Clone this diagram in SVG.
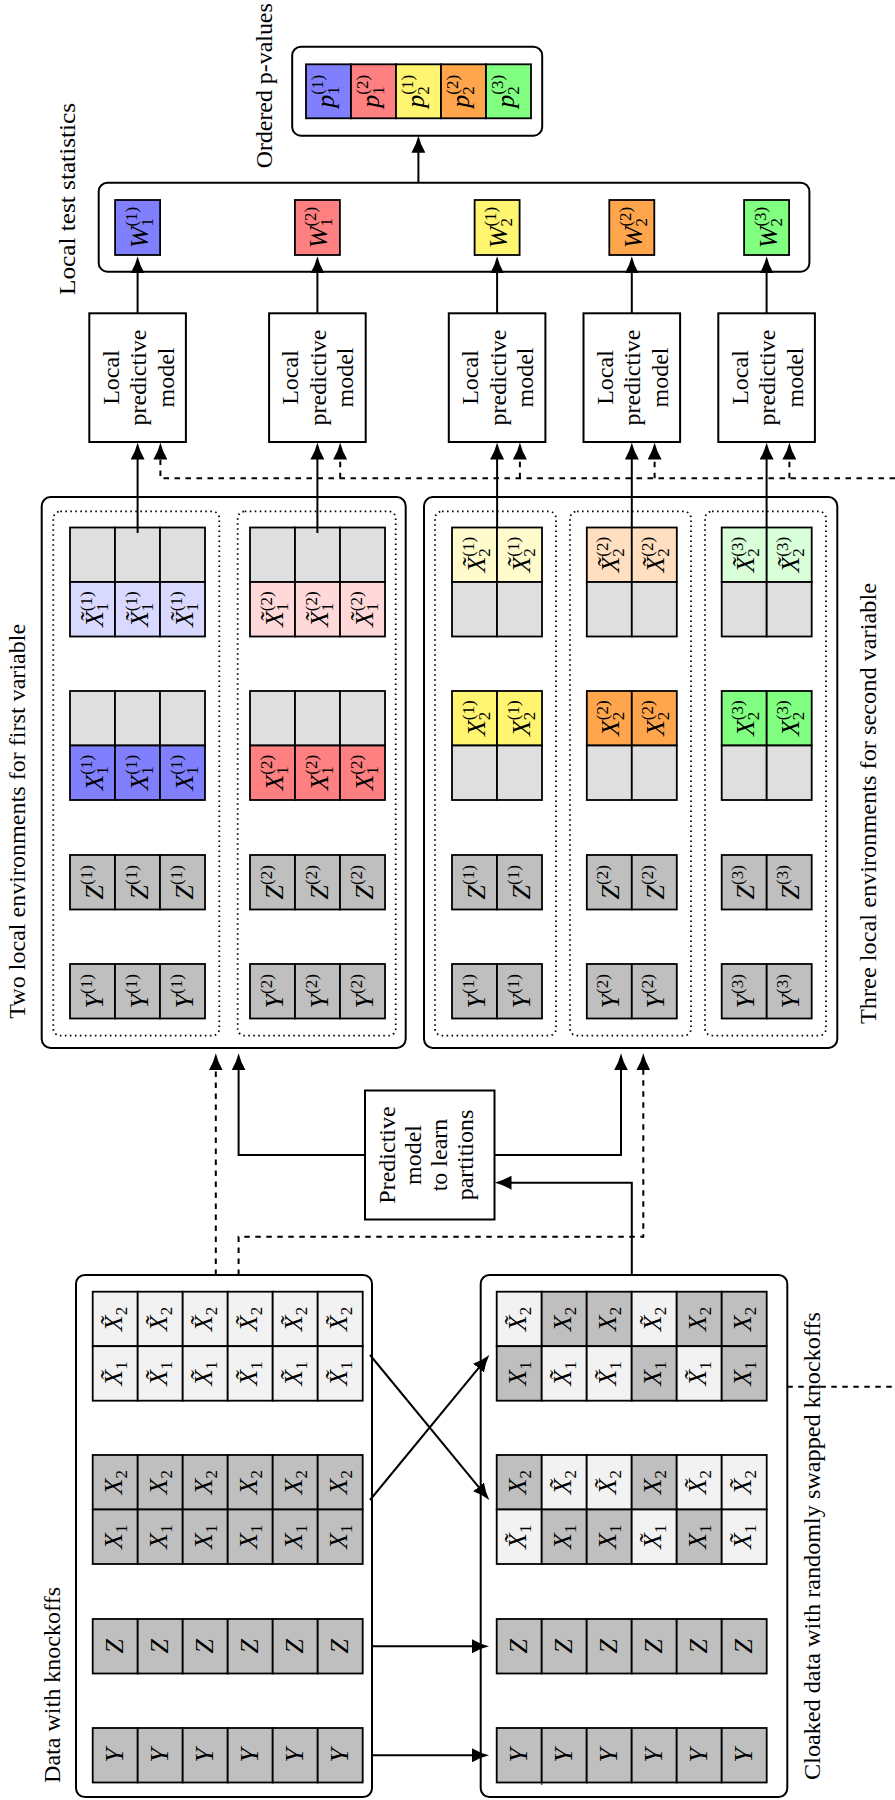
<svg xmlns="http://www.w3.org/2000/svg" width="895" height="1800" viewBox="0 0 895 1800">
<style>
text{font-family:"Liberation Serif","Times New Roman",serif;fill:#000}
.lbl{font-size:23px;text-anchor:middle}
.bx{font-size:24px;text-anchor:middle}
.t{font-size:26px;font-style:italic;text-anchor:middle}
.s{font-size:17px;font-style:normal}
.box{fill:#fff;stroke:#000;stroke-width:2}
.nb{fill:#fff;stroke:#000;stroke-width:2}
.dot{fill:none;stroke:#000;stroke-width:1.8;stroke-dasharray:1.6 3.4}
use.c{stroke:#000;stroke-width:1.8}
.g{fill:#bfbfbf}.e{fill:#dfdfdf}.k{fill:#f2f2f2}
.b{fill:#8080ff}.r{fill:#ff8080}.y{fill:#fff570}.o{fill:#ffa64d}.gr{fill:#80ff80}
.lb{fill:#d9d9ff}.lr{fill:#ffd9d9}.ly{fill:#fffbcc}.lo{fill:#ffdfbf}.lg{fill:#d9ffd9}
.ln{fill:none;stroke:#000;stroke-width:2}
.ds{stroke-dasharray:5.5 5.5}
</style>
<defs>
<rect id="cl" width="45" height="54.5"/>
<rect id="cw" width="45" height="55"/>
<rect id="cp" width="45" height="54"/>
<marker id="ah" viewBox="0 0 17 14" refX="11" refY="7" markerWidth="17" markerHeight="14" markerUnits="userSpaceOnUse" orient="auto"><path d="M17,7 Q8.5,5 0,0 L0,14 Q8.5,9 17,7 Z" fill="#000"/></marker>
</defs>

<g id="pvalues">
<rect class="box" x="292.2" y="46.7" width="250" height="89" rx="8.8"/>
<use href="#cp" class="c b" x="306" y="64.3"/>
<use href="#cp" class="c r" x="351" y="64.3"/>
<use href="#cp" class="c y" x="396" y="64.3"/>
<use href="#cp" class="c o" x="441" y="64.3"/>
<use href="#cp" class="c gr" x="486" y="64.3"/>
<text class="t" transform="translate(328.5 91.3) rotate(-90)" y="5">p<tspan class="s" dy="5">1</tspan><tspan class="s" dx="-8.5" dy="-16">(1)</tspan></text>
<text class="t" transform="translate(373.5 91.3) rotate(-90)" y="5">p<tspan class="s" dy="5">1</tspan><tspan class="s" dx="-8.5" dy="-16">(2)</tspan></text>
<text class="t" transform="translate(418.5 91.3) rotate(-90)" y="5">p<tspan class="s" dy="5">2</tspan><tspan class="s" dx="-8.5" dy="-16">(1)</tspan></text>
<text class="t" transform="translate(463.5 91.3) rotate(-90)" y="5">p<tspan class="s" dy="5">2</tspan><tspan class="s" dx="-8.5" dy="-16">(2)</tspan></text>
<text class="t" transform="translate(508.5 91.3) rotate(-90)" y="5">p<tspan class="s" dy="5">2</tspan><tspan class="s" dx="-8.5" dy="-16">(3)</tspan></text>
<text class="lbl" transform="translate(272 85.8) rotate(-90)" textLength="165" lengthAdjust="spacingAndGlyphs">Ordered p-values</text>
</g>

<g id="stats">
<rect class="box" x="98.7" y="182.7" width="710.7" height="89" rx="8.8"/>
<use href="#cw" class="c b" x="115.1" y="200"/>
<use href="#cw" class="c r" x="294.9" y="200"/>
<use href="#cw" class="c y" x="474.6" y="200"/>
<use href="#cw" class="c o" x="609.3" y="200"/>
<use href="#cw" class="c gr" x="744.1" y="200"/>
<text class="t" transform="translate(137.6 227.5) rotate(-90)" y="10">W<tspan class="s" dy="5">1</tspan><tspan class="s" dx="-8.5" dy="-16">(1)</tspan></text>
<text class="t" transform="translate(317.4 227.5) rotate(-90)" y="10">W<tspan class="s" dy="5">1</tspan><tspan class="s" dx="-8.5" dy="-16">(2)</tspan></text>
<text class="t" transform="translate(497.1 227.5) rotate(-90)" y="10">W<tspan class="s" dy="5">2</tspan><tspan class="s" dx="-8.5" dy="-16">(1)</tspan></text>
<text class="t" transform="translate(631.8 227.5) rotate(-90)" y="10">W<tspan class="s" dy="5">2</tspan><tspan class="s" dx="-8.5" dy="-16">(2)</tspan></text>
<text class="t" transform="translate(766.6 227.5) rotate(-90)" y="10">W<tspan class="s" dy="5">2</tspan><tspan class="s" dx="-8.5" dy="-16">(3)</tspan></text>
<text class="lbl" transform="translate(75 199) rotate(-90)" textLength="192" lengthAdjust="spacingAndGlyphs">Local test statistics</text>
</g>

<g id="lpm1"><rect class="nb" x="89.3" y="313.3" width="96.6" height="128.7"/><text class="bx" transform="translate(137.6 377.5) rotate(-90)"><tspan x="0" y="-19">Local</tspan><tspan x="0" y="8.5">predictive</tspan><tspan x="0" y="36">model</tspan></text></g>
<g id="lpm2"><rect class="nb" x="269.1" y="313.3" width="96.6" height="128.7"/><text class="bx" transform="translate(317.4 377.5) rotate(-90)"><tspan x="0" y="-19">Local</tspan><tspan x="0" y="8.5">predictive</tspan><tspan x="0" y="36">model</tspan></text></g>
<g id="lpm3"><rect class="nb" x="448.8" y="313.3" width="96.6" height="128.7"/><text class="bx" transform="translate(497.1 377.5) rotate(-90)"><tspan x="0" y="-19">Local</tspan><tspan x="0" y="8.5">predictive</tspan><tspan x="0" y="36">model</tspan></text></g>
<g id="lpm4"><rect class="nb" x="583.5" y="313.3" width="96.6" height="128.7"/><text class="bx" transform="translate(631.8 377.5) rotate(-90)"><tspan x="0" y="-19">Local</tspan><tspan x="0" y="8.5">predictive</tspan><tspan x="0" y="36">model</tspan></text></g>
<g id="lpm5"><rect class="nb" x="718.3" y="313.3" width="96.6" height="128.7"/><text class="bx" transform="translate(766.6 377.5) rotate(-90)"><tspan x="0" y="-19">Local</tspan><tspan x="0" y="8.5">predictive</tspan><tspan x="0" y="36">model</tspan></text></g>

<g id="env-first">
<rect class="box" x="41.7" y="497.1" width="364" height="550.8" rx="8.8"/>
<rect class="dot" x="53.3" y="511.4" width="166" height="524.3" rx="7"/>
<rect class="dot" x="237.7" y="511.4" width="158" height="524.3" rx="7"/>
<use href="#cl" class="c e" x="70" y="527.5"/><use href="#cl" class="c e" x="115" y="527.5"/><use href="#cl" class="c e" x="160" y="527.5"/>
<use href="#cl" class="c lb" x="70" y="582"/><use href="#cl" class="c lb" x="115" y="582"/><use href="#cl" class="c lb" x="160" y="582"/>
<use href="#cl" class="c e" x="70" y="691"/><use href="#cl" class="c e" x="115" y="691"/><use href="#cl" class="c e" x="160" y="691"/>
<use href="#cl" class="c b" x="70" y="745.5"/><use href="#cl" class="c b" x="115" y="745.5"/><use href="#cl" class="c b" x="160" y="745.5"/>
<use href="#cl" class="c g" x="70" y="855"/><use href="#cl" class="c g" x="115" y="855"/><use href="#cl" class="c g" x="160" y="855"/>
<use href="#cl" class="c g" x="70" y="964"/><use href="#cl" class="c g" x="115" y="964"/><use href="#cl" class="c g" x="160" y="964"/>
<use href="#cl" class="c e" x="250" y="527.5"/><use href="#cl" class="c e" x="295" y="527.5"/><use href="#cl" class="c e" x="340" y="527.5"/>
<use href="#cl" class="c lr" x="250" y="582"/><use href="#cl" class="c lr" x="295" y="582"/><use href="#cl" class="c lr" x="340" y="582"/>
<use href="#cl" class="c e" x="250" y="691"/><use href="#cl" class="c e" x="295" y="691"/><use href="#cl" class="c e" x="340" y="691"/>
<use href="#cl" class="c r" x="250" y="745.5"/><use href="#cl" class="c r" x="295" y="745.5"/><use href="#cl" class="c r" x="340" y="745.5"/>
<use href="#cl" class="c g" x="250" y="855"/><use href="#cl" class="c g" x="295" y="855"/><use href="#cl" class="c g" x="340" y="855"/>
<use href="#cl" class="c g" x="250" y="964"/><use href="#cl" class="c g" x="295" y="964"/><use href="#cl" class="c g" x="340" y="964"/>
<text class="t" transform="translate(92.5 609.25) rotate(-90)" y="10">X̃<tspan class="s" dy="5">1</tspan><tspan class="s" dx="-8.5" dy="-16">(1)</tspan></text>
<text class="t" transform="translate(137.5 609.25) rotate(-90)" y="10">X̃<tspan class="s" dy="5">1</tspan><tspan class="s" dx="-8.5" dy="-16">(1)</tspan></text>
<text class="t" transform="translate(182.5 609.25) rotate(-90)" y="10">X̃<tspan class="s" dy="5">1</tspan><tspan class="s" dx="-8.5" dy="-16">(1)</tspan></text>
<text class="t" transform="translate(92.5 772.75) rotate(-90)" y="10">X<tspan class="s" dy="5">1</tspan><tspan class="s" dx="-8.5" dy="-16">(1)</tspan></text>
<text class="t" transform="translate(137.5 772.75) rotate(-90)" y="10">X<tspan class="s" dy="5">1</tspan><tspan class="s" dx="-8.5" dy="-16">(1)</tspan></text>
<text class="t" transform="translate(182.5 772.75) rotate(-90)" y="10">X<tspan class="s" dy="5">1</tspan><tspan class="s" dx="-8.5" dy="-16">(1)</tspan></text>
<text class="t" transform="translate(92.5 882.25) rotate(-90)" y="10">Z<tspan class="s" dy="-11">(1)</tspan></text>
<text class="t" transform="translate(137.5 882.25) rotate(-90)" y="10">Z<tspan class="s" dy="-11">(1)</tspan></text>
<text class="t" transform="translate(182.5 882.25) rotate(-90)" y="10">Z<tspan class="s" dy="-11">(1)</tspan></text>
<text class="t" transform="translate(92.5 991.25) rotate(-90)" y="10">Y<tspan class="s" dy="-11">(1)</tspan></text>
<text class="t" transform="translate(137.5 991.25) rotate(-90)" y="10">Y<tspan class="s" dy="-11">(1)</tspan></text>
<text class="t" transform="translate(182.5 991.25) rotate(-90)" y="10">Y<tspan class="s" dy="-11">(1)</tspan></text>
<text class="t" transform="translate(272.5 609.25) rotate(-90)" y="10">X̃<tspan class="s" dy="5">1</tspan><tspan class="s" dx="-8.5" dy="-16">(2)</tspan></text>
<text class="t" transform="translate(317.5 609.25) rotate(-90)" y="10">X̃<tspan class="s" dy="5">1</tspan><tspan class="s" dx="-8.5" dy="-16">(2)</tspan></text>
<text class="t" transform="translate(362.5 609.25) rotate(-90)" y="10">X̃<tspan class="s" dy="5">1</tspan><tspan class="s" dx="-8.5" dy="-16">(2)</tspan></text>
<text class="t" transform="translate(272.5 772.75) rotate(-90)" y="10">X<tspan class="s" dy="5">1</tspan><tspan class="s" dx="-8.5" dy="-16">(2)</tspan></text>
<text class="t" transform="translate(317.5 772.75) rotate(-90)" y="10">X<tspan class="s" dy="5">1</tspan><tspan class="s" dx="-8.5" dy="-16">(2)</tspan></text>
<text class="t" transform="translate(362.5 772.75) rotate(-90)" y="10">X<tspan class="s" dy="5">1</tspan><tspan class="s" dx="-8.5" dy="-16">(2)</tspan></text>
<text class="t" transform="translate(272.5 882.25) rotate(-90)" y="10">Z<tspan class="s" dy="-11">(2)</tspan></text>
<text class="t" transform="translate(317.5 882.25) rotate(-90)" y="10">Z<tspan class="s" dy="-11">(2)</tspan></text>
<text class="t" transform="translate(362.5 882.25) rotate(-90)" y="10">Z<tspan class="s" dy="-11">(2)</tspan></text>
<text class="t" transform="translate(272.5 991.25) rotate(-90)" y="10">Y<tspan class="s" dy="-11">(2)</tspan></text>
<text class="t" transform="translate(317.5 991.25) rotate(-90)" y="10">Y<tspan class="s" dy="-11">(2)</tspan></text>
<text class="t" transform="translate(362.5 991.25) rotate(-90)" y="10">Y<tspan class="s" dy="-11">(2)</tspan></text>
<text class="lbl" transform="translate(25 821.3) rotate(-90)" textLength="395" lengthAdjust="spacingAndGlyphs">Two local environments for first variable</text>
</g>

<g id="env-second">
<rect class="box" x="424" y="497.1" width="413.3" height="550.8" rx="8.8"/>
<rect class="dot" x="435" y="511.4" width="121" height="524.3" rx="7"/>
<rect class="dot" x="570" y="511.4" width="121" height="524.3" rx="7"/>
<rect class="dot" x="705" y="511.4" width="121" height="524.3" rx="7"/>
<use href="#cl" class="c ly" x="452" y="527.5"/><use href="#cl" class="c ly" x="497" y="527.5"/>
<use href="#cl" class="c e" x="452" y="582"/><use href="#cl" class="c e" x="497" y="582"/>
<use href="#cl" class="c y" x="452" y="691"/><use href="#cl" class="c y" x="497" y="691"/>
<use href="#cl" class="c e" x="452" y="745.5"/><use href="#cl" class="c e" x="497" y="745.5"/>
<use href="#cl" class="c g" x="452" y="855"/><use href="#cl" class="c g" x="497" y="855"/>
<use href="#cl" class="c g" x="452" y="964"/><use href="#cl" class="c g" x="497" y="964"/>
<use href="#cl" class="c lo" x="586.8" y="527.5"/><use href="#cl" class="c lo" x="631.8" y="527.5"/>
<use href="#cl" class="c e" x="586.8" y="582"/><use href="#cl" class="c e" x="631.8" y="582"/>
<use href="#cl" class="c o" x="586.8" y="691"/><use href="#cl" class="c o" x="631.8" y="691"/>
<use href="#cl" class="c e" x="586.8" y="745.5"/><use href="#cl" class="c e" x="631.8" y="745.5"/>
<use href="#cl" class="c g" x="586.8" y="855"/><use href="#cl" class="c g" x="631.8" y="855"/>
<use href="#cl" class="c g" x="586.8" y="964"/><use href="#cl" class="c g" x="631.8" y="964"/>
<use href="#cl" class="c lg" x="721.7" y="527.5"/><use href="#cl" class="c lg" x="766.7" y="527.5"/>
<use href="#cl" class="c e" x="721.7" y="582"/><use href="#cl" class="c e" x="766.7" y="582"/>
<use href="#cl" class="c gr" x="721.7" y="691"/><use href="#cl" class="c gr" x="766.7" y="691"/>
<use href="#cl" class="c e" x="721.7" y="745.5"/><use href="#cl" class="c e" x="766.7" y="745.5"/>
<use href="#cl" class="c g" x="721.7" y="855"/><use href="#cl" class="c g" x="766.7" y="855"/>
<use href="#cl" class="c g" x="721.7" y="964"/><use href="#cl" class="c g" x="766.7" y="964"/>
<text class="t" transform="translate(474.5 554.75) rotate(-90)" y="10">X̃<tspan class="s" dy="5">2</tspan><tspan class="s" dx="-8.5" dy="-16">(1)</tspan></text>
<text class="t" transform="translate(519.5 554.75) rotate(-90)" y="10">X̃<tspan class="s" dy="5">2</tspan><tspan class="s" dx="-8.5" dy="-16">(1)</tspan></text>
<text class="t" transform="translate(474.5 718.25) rotate(-90)" y="10">X<tspan class="s" dy="5">2</tspan><tspan class="s" dx="-8.5" dy="-16">(1)</tspan></text>
<text class="t" transform="translate(519.5 718.25) rotate(-90)" y="10">X<tspan class="s" dy="5">2</tspan><tspan class="s" dx="-8.5" dy="-16">(1)</tspan></text>
<text class="t" transform="translate(474.5 882.25) rotate(-90)" y="10">Z<tspan class="s" dy="-11">(1)</tspan></text>
<text class="t" transform="translate(519.5 882.25) rotate(-90)" y="10">Z<tspan class="s" dy="-11">(1)</tspan></text>
<text class="t" transform="translate(474.5 991.25) rotate(-90)" y="10">Y<tspan class="s" dy="-11">(1)</tspan></text>
<text class="t" transform="translate(519.5 991.25) rotate(-90)" y="10">Y<tspan class="s" dy="-11">(1)</tspan></text>
<text class="t" transform="translate(609.3 554.75) rotate(-90)" y="10">X̃<tspan class="s" dy="5">2</tspan><tspan class="s" dx="-8.5" dy="-16">(2)</tspan></text>
<text class="t" transform="translate(654.3 554.75) rotate(-90)" y="10">X̃<tspan class="s" dy="5">2</tspan><tspan class="s" dx="-8.5" dy="-16">(2)</tspan></text>
<text class="t" transform="translate(609.3 718.25) rotate(-90)" y="10">X<tspan class="s" dy="5">2</tspan><tspan class="s" dx="-8.5" dy="-16">(2)</tspan></text>
<text class="t" transform="translate(654.3 718.25) rotate(-90)" y="10">X<tspan class="s" dy="5">2</tspan><tspan class="s" dx="-8.5" dy="-16">(2)</tspan></text>
<text class="t" transform="translate(609.3 882.25) rotate(-90)" y="10">Z<tspan class="s" dy="-11">(2)</tspan></text>
<text class="t" transform="translate(654.3 882.25) rotate(-90)" y="10">Z<tspan class="s" dy="-11">(2)</tspan></text>
<text class="t" transform="translate(609.3 991.25) rotate(-90)" y="10">Y<tspan class="s" dy="-11">(2)</tspan></text>
<text class="t" transform="translate(654.3 991.25) rotate(-90)" y="10">Y<tspan class="s" dy="-11">(2)</tspan></text>
<text class="t" transform="translate(744.2 554.75) rotate(-90)" y="10">X̃<tspan class="s" dy="5">2</tspan><tspan class="s" dx="-8.5" dy="-16">(3)</tspan></text>
<text class="t" transform="translate(789.2 554.75) rotate(-90)" y="10">X̃<tspan class="s" dy="5">2</tspan><tspan class="s" dx="-8.5" dy="-16">(3)</tspan></text>
<text class="t" transform="translate(744.2 718.25) rotate(-90)" y="10">X<tspan class="s" dy="5">2</tspan><tspan class="s" dx="-8.5" dy="-16">(3)</tspan></text>
<text class="t" transform="translate(789.2 718.25) rotate(-90)" y="10">X<tspan class="s" dy="5">2</tspan><tspan class="s" dx="-8.5" dy="-16">(3)</tspan></text>
<text class="t" transform="translate(744.2 882.25) rotate(-90)" y="10">Z<tspan class="s" dy="-11">(3)</tspan></text>
<text class="t" transform="translate(789.2 882.25) rotate(-90)" y="10">Z<tspan class="s" dy="-11">(3)</tspan></text>
<text class="t" transform="translate(744.2 991.25) rotate(-90)" y="10">Y<tspan class="s" dy="-11">(3)</tspan></text>
<text class="t" transform="translate(789.2 991.25) rotate(-90)" y="10">Y<tspan class="s" dy="-11">(3)</tspan></text>
<text class="lbl" transform="translate(875.5 803.5) rotate(-90)" textLength="441" lengthAdjust="spacingAndGlyphs">Three local environments for second variable</text>
</g>

<g id="predictive"><rect class="nb" x="365" y="1090.5" width="129.5" height="129"/><text class="bx" transform="translate(430 1155) rotate(-90)"><tspan x="0" y="-35">Predictive</tspan><tspan x="0" y="-9">model</tspan><tspan x="0" y="17">to learn</tspan><tspan x="0" y="43">partitions</tspan></text></g>

<g id="data">
<rect class="box" x="76" y="1275" width="296" height="522" rx="8.8"/>
<use href="#cl" class="c k" x="92.7" y="1291.7"/><use href="#cl" class="c k" x="137.7" y="1291.7"/><use href="#cl" class="c k" x="182.7" y="1291.7"/><use href="#cl" class="c k" x="227.7" y="1291.7"/><use href="#cl" class="c k" x="272.7" y="1291.7"/><use href="#cl" class="c k" x="317.7" y="1291.7"/>
<use href="#cl" class="c k" x="92.7" y="1346.2"/><use href="#cl" class="c k" x="137.7" y="1346.2"/><use href="#cl" class="c k" x="182.7" y="1346.2"/><use href="#cl" class="c k" x="227.7" y="1346.2"/><use href="#cl" class="c k" x="272.7" y="1346.2"/><use href="#cl" class="c k" x="317.7" y="1346.2"/>
<use href="#cl" class="c g" x="92.7" y="1455"/><use href="#cl" class="c g" x="137.7" y="1455"/><use href="#cl" class="c g" x="182.7" y="1455"/><use href="#cl" class="c g" x="227.7" y="1455"/><use href="#cl" class="c g" x="272.7" y="1455"/><use href="#cl" class="c g" x="317.7" y="1455"/>
<use href="#cl" class="c g" x="92.7" y="1509.5"/><use href="#cl" class="c g" x="137.7" y="1509.5"/><use href="#cl" class="c g" x="182.7" y="1509.5"/><use href="#cl" class="c g" x="227.7" y="1509.5"/><use href="#cl" class="c g" x="272.7" y="1509.5"/><use href="#cl" class="c g" x="317.7" y="1509.5"/>
<use href="#cl" class="c g" x="92.7" y="1619"/><use href="#cl" class="c g" x="137.7" y="1619"/><use href="#cl" class="c g" x="182.7" y="1619"/><use href="#cl" class="c g" x="227.7" y="1619"/><use href="#cl" class="c g" x="272.7" y="1619"/><use href="#cl" class="c g" x="317.7" y="1619"/>
<use href="#cl" class="c g" x="92.7" y="1728"/><use href="#cl" class="c g" x="137.7" y="1728"/><use href="#cl" class="c g" x="182.7" y="1728"/><use href="#cl" class="c g" x="227.7" y="1728"/><use href="#cl" class="c g" x="272.7" y="1728"/><use href="#cl" class="c g" x="317.7" y="1728"/>
<text class="t" transform="translate(115.2 1318.95) rotate(-90)" y="7">X̃<tspan class="s" dy="5">2</tspan></text>
<text class="t" transform="translate(160.2 1318.95) rotate(-90)" y="7">X̃<tspan class="s" dy="5">2</tspan></text>
<text class="t" transform="translate(205.2 1318.95) rotate(-90)" y="7">X̃<tspan class="s" dy="5">2</tspan></text>
<text class="t" transform="translate(250.2 1318.95) rotate(-90)" y="7">X̃<tspan class="s" dy="5">2</tspan></text>
<text class="t" transform="translate(295.2 1318.95) rotate(-90)" y="7">X̃<tspan class="s" dy="5">2</tspan></text>
<text class="t" transform="translate(340.2 1318.95) rotate(-90)" y="7">X̃<tspan class="s" dy="5">2</tspan></text>
<text class="t" transform="translate(115.2 1373.45) rotate(-90)" y="7">X̃<tspan class="s" dy="5">1</tspan></text>
<text class="t" transform="translate(160.2 1373.45) rotate(-90)" y="7">X̃<tspan class="s" dy="5">1</tspan></text>
<text class="t" transform="translate(205.2 1373.45) rotate(-90)" y="7">X̃<tspan class="s" dy="5">1</tspan></text>
<text class="t" transform="translate(250.2 1373.45) rotate(-90)" y="7">X̃<tspan class="s" dy="5">1</tspan></text>
<text class="t" transform="translate(295.2 1373.45) rotate(-90)" y="7">X̃<tspan class="s" dy="5">1</tspan></text>
<text class="t" transform="translate(340.2 1373.45) rotate(-90)" y="7">X̃<tspan class="s" dy="5">1</tspan></text>
<text class="t" transform="translate(115.2 1482.25) rotate(-90)" y="7">X<tspan class="s" dy="5">2</tspan></text>
<text class="t" transform="translate(160.2 1482.25) rotate(-90)" y="7">X<tspan class="s" dy="5">2</tspan></text>
<text class="t" transform="translate(205.2 1482.25) rotate(-90)" y="7">X<tspan class="s" dy="5">2</tspan></text>
<text class="t" transform="translate(250.2 1482.25) rotate(-90)" y="7">X<tspan class="s" dy="5">2</tspan></text>
<text class="t" transform="translate(295.2 1482.25) rotate(-90)" y="7">X<tspan class="s" dy="5">2</tspan></text>
<text class="t" transform="translate(340.2 1482.25) rotate(-90)" y="7">X<tspan class="s" dy="5">2</tspan></text>
<text class="t" transform="translate(115.2 1536.75) rotate(-90)" y="7">X<tspan class="s" dy="5">1</tspan></text>
<text class="t" transform="translate(160.2 1536.75) rotate(-90)" y="7">X<tspan class="s" dy="5">1</tspan></text>
<text class="t" transform="translate(205.2 1536.75) rotate(-90)" y="7">X<tspan class="s" dy="5">1</tspan></text>
<text class="t" transform="translate(250.2 1536.75) rotate(-90)" y="7">X<tspan class="s" dy="5">1</tspan></text>
<text class="t" transform="translate(295.2 1536.75) rotate(-90)" y="7">X<tspan class="s" dy="5">1</tspan></text>
<text class="t" transform="translate(340.2 1536.75) rotate(-90)" y="7">X<tspan class="s" dy="5">1</tspan></text>
<text class="t" transform="translate(115.2 1646.25) rotate(-90)" y="8">Z</text>
<text class="t" transform="translate(160.2 1646.25) rotate(-90)" y="8">Z</text>
<text class="t" transform="translate(205.2 1646.25) rotate(-90)" y="8">Z</text>
<text class="t" transform="translate(250.2 1646.25) rotate(-90)" y="8">Z</text>
<text class="t" transform="translate(295.2 1646.25) rotate(-90)" y="8">Z</text>
<text class="t" transform="translate(340.2 1646.25) rotate(-90)" y="8">Z</text>
<text class="t" transform="translate(115.2 1755.25) rotate(-90)" y="8">Y</text>
<text class="t" transform="translate(160.2 1755.25) rotate(-90)" y="8">Y</text>
<text class="t" transform="translate(205.2 1755.25) rotate(-90)" y="8">Y</text>
<text class="t" transform="translate(250.2 1755.25) rotate(-90)" y="8">Y</text>
<text class="t" transform="translate(295.2 1755.25) rotate(-90)" y="8">Y</text>
<text class="t" transform="translate(340.2 1755.25) rotate(-90)" y="8">Y</text>
<text class="lbl" transform="translate(60 1685) rotate(-90)" textLength="196" lengthAdjust="spacingAndGlyphs">Data with knockoffs</text>
</g>

<g id="cloaked">
<rect class="box" x="480.7" y="1275" width="306.6" height="522" rx="8.8"/>
<use href="#cl" class="c k" x="496.7" y="1291.7"/><use href="#cl" class="c g" x="541.7" y="1291.7"/><use href="#cl" class="c g" x="586.7" y="1291.7"/><use href="#cl" class="c k" x="631.7" y="1291.7"/><use href="#cl" class="c g" x="676.7" y="1291.7"/><use href="#cl" class="c g" x="721.7" y="1291.7"/>
<use href="#cl" class="c g" x="496.7" y="1346.2"/><use href="#cl" class="c k" x="541.7" y="1346.2"/><use href="#cl" class="c k" x="586.7" y="1346.2"/><use href="#cl" class="c g" x="631.7" y="1346.2"/><use href="#cl" class="c k" x="676.7" y="1346.2"/><use href="#cl" class="c g" x="721.7" y="1346.2"/>
<use href="#cl" class="c g" x="496.7" y="1455"/><use href="#cl" class="c k" x="541.7" y="1455"/><use href="#cl" class="c k" x="586.7" y="1455"/><use href="#cl" class="c g" x="631.7" y="1455"/><use href="#cl" class="c k" x="676.7" y="1455"/><use href="#cl" class="c k" x="721.7" y="1455"/>
<use href="#cl" class="c k" x="496.7" y="1509.5"/><use href="#cl" class="c g" x="541.7" y="1509.5"/><use href="#cl" class="c g" x="586.7" y="1509.5"/><use href="#cl" class="c k" x="631.7" y="1509.5"/><use href="#cl" class="c g" x="676.7" y="1509.5"/><use href="#cl" class="c k" x="721.7" y="1509.5"/>
<use href="#cl" class="c g" x="496.7" y="1619"/><use href="#cl" class="c g" x="541.7" y="1619"/><use href="#cl" class="c g" x="586.7" y="1619"/><use href="#cl" class="c g" x="631.7" y="1619"/><use href="#cl" class="c g" x="676.7" y="1619"/><use href="#cl" class="c g" x="721.7" y="1619"/>
<use href="#cl" class="c g" x="496.7" y="1728"/><use href="#cl" class="c g" x="541.7" y="1728"/><use href="#cl" class="c g" x="586.7" y="1728"/><use href="#cl" class="c g" x="631.7" y="1728"/><use href="#cl" class="c g" x="676.7" y="1728"/><use href="#cl" class="c g" x="721.7" y="1728"/>
<text class="t" transform="translate(519.2 1318.95) rotate(-90)" y="7">X̃<tspan class="s" dy="5">2</tspan></text>
<text class="t" transform="translate(564.2 1318.95) rotate(-90)" y="7">X<tspan class="s" dy="5">2</tspan></text>
<text class="t" transform="translate(609.2 1318.95) rotate(-90)" y="7">X<tspan class="s" dy="5">2</tspan></text>
<text class="t" transform="translate(654.2 1318.95) rotate(-90)" y="7">X̃<tspan class="s" dy="5">2</tspan></text>
<text class="t" transform="translate(699.2 1318.95) rotate(-90)" y="7">X<tspan class="s" dy="5">2</tspan></text>
<text class="t" transform="translate(744.2 1318.95) rotate(-90)" y="7">X<tspan class="s" dy="5">2</tspan></text>
<text class="t" transform="translate(519.2 1373.45) rotate(-90)" y="7">X<tspan class="s" dy="5">1</tspan></text>
<text class="t" transform="translate(564.2 1373.45) rotate(-90)" y="7">X̃<tspan class="s" dy="5">1</tspan></text>
<text class="t" transform="translate(609.2 1373.45) rotate(-90)" y="7">X̃<tspan class="s" dy="5">1</tspan></text>
<text class="t" transform="translate(654.2 1373.45) rotate(-90)" y="7">X<tspan class="s" dy="5">1</tspan></text>
<text class="t" transform="translate(699.2 1373.45) rotate(-90)" y="7">X̃<tspan class="s" dy="5">1</tspan></text>
<text class="t" transform="translate(744.2 1373.45) rotate(-90)" y="7">X<tspan class="s" dy="5">1</tspan></text>
<text class="t" transform="translate(519.2 1482.25) rotate(-90)" y="7">X<tspan class="s" dy="5">2</tspan></text>
<text class="t" transform="translate(564.2 1482.25) rotate(-90)" y="7">X̃<tspan class="s" dy="5">2</tspan></text>
<text class="t" transform="translate(609.2 1482.25) rotate(-90)" y="7">X̃<tspan class="s" dy="5">2</tspan></text>
<text class="t" transform="translate(654.2 1482.25) rotate(-90)" y="7">X<tspan class="s" dy="5">2</tspan></text>
<text class="t" transform="translate(699.2 1482.25) rotate(-90)" y="7">X̃<tspan class="s" dy="5">2</tspan></text>
<text class="t" transform="translate(744.2 1482.25) rotate(-90)" y="7">X̃<tspan class="s" dy="5">2</tspan></text>
<text class="t" transform="translate(519.2 1536.75) rotate(-90)" y="7">X̃<tspan class="s" dy="5">1</tspan></text>
<text class="t" transform="translate(564.2 1536.75) rotate(-90)" y="7">X<tspan class="s" dy="5">1</tspan></text>
<text class="t" transform="translate(609.2 1536.75) rotate(-90)" y="7">X<tspan class="s" dy="5">1</tspan></text>
<text class="t" transform="translate(654.2 1536.75) rotate(-90)" y="7">X̃<tspan class="s" dy="5">1</tspan></text>
<text class="t" transform="translate(699.2 1536.75) rotate(-90)" y="7">X<tspan class="s" dy="5">1</tspan></text>
<text class="t" transform="translate(744.2 1536.75) rotate(-90)" y="7">X̃<tspan class="s" dy="5">1</tspan></text>
<text class="t" transform="translate(519.2 1646.25) rotate(-90)" y="8">Z</text>
<text class="t" transform="translate(564.2 1646.25) rotate(-90)" y="8">Z</text>
<text class="t" transform="translate(609.2 1646.25) rotate(-90)" y="8">Z</text>
<text class="t" transform="translate(654.2 1646.25) rotate(-90)" y="8">Z</text>
<text class="t" transform="translate(699.2 1646.25) rotate(-90)" y="8">Z</text>
<text class="t" transform="translate(744.2 1646.25) rotate(-90)" y="8">Z</text>
<text class="t" transform="translate(519.2 1755.25) rotate(-90)" y="8">Y</text>
<text class="t" transform="translate(564.2 1755.25) rotate(-90)" y="8">Y</text>
<text class="t" transform="translate(609.2 1755.25) rotate(-90)" y="8">Y</text>
<text class="t" transform="translate(654.2 1755.25) rotate(-90)" y="8">Y</text>
<text class="t" transform="translate(699.2 1755.25) rotate(-90)" y="8">Y</text>
<text class="t" transform="translate(744.2 1755.25) rotate(-90)" y="8">Y</text>
<circle cx="541.7" cy="1784" r="0.9" fill="#444"/>
<text class="lbl" transform="translate(819.5 1546) rotate(-90)" textLength="468" lengthAdjust="spacingAndGlyphs">Cloaked data with randomly swapped knockoffs</text>
</g>

<g id="connectors" class="ln">
<path d="M418.4,182.7 V141.7" marker-end="url(#ah)"/>
<path d="M137.6,313.3 V262.3" marker-end="url(#ah)"/>
<path d="M317.4,313.3 V262.3" marker-end="url(#ah)"/>
<path d="M497.1,313.3 V262.3" marker-end="url(#ah)"/>
<path d="M631.8,313.3 V262.3" marker-end="url(#ah)"/>
<path d="M766.6,313.3 V262.3" marker-end="url(#ah)"/>
<path d="M137.6,533 V448.5" marker-end="url(#ah)"/>
<path d="M317.4,533 V448.5" marker-end="url(#ah)"/>
<path d="M497.1,527.5 V448.5" marker-end="url(#ah)"/>
<path d="M631.8,527.5 V448.5" marker-end="url(#ah)"/>
<path d="M766.6,527.5 V448.5" marker-end="url(#ah)"/>
<path class="ds" d="M895,478.3 H160.4 V448.5" marker-end="url(#ah)"/>
<path class="ds" d="M340.2,478.3 V448.5" marker-end="url(#ah)"/>
<path class="ds" d="M519.9,478.3 V448.5" marker-end="url(#ah)"/>
<path class="ds" d="M654.6,478.3 V448.5" marker-end="url(#ah)"/>
<path class="ds" d="M789.4,478.3 V448.5" marker-end="url(#ah)"/>
<path d="M365,1155 H238.6 V1059.3" marker-end="url(#ah)"/>
<path d="M494.5,1155 H621 V1059.3" marker-end="url(#ah)"/>
<path class="ds" d="M215.8,1275 V1059.3" marker-end="url(#ah)"/>
<path class="ds" d="M238.6,1275 V1236.7 H643.3 V1059.3" marker-end="url(#ah)"/>
<path d="M631.8,1274.5 V1182.7 H500.5" marker-end="url(#ah)"/>
<path d="M372,1755.3 H483" marker-end="url(#ah)"/>
<path d="M372,1646.3 H483" marker-end="url(#ah)"/>
<path d="M370,1355 L485.5,1495.4" marker-end="url(#ah)"/>
<path d="M370,1500 L485.5,1359.6" marker-end="url(#ah)"/>
<path class="ds" d="M787.3,1386.7 H895"/>
</g>
</svg>
